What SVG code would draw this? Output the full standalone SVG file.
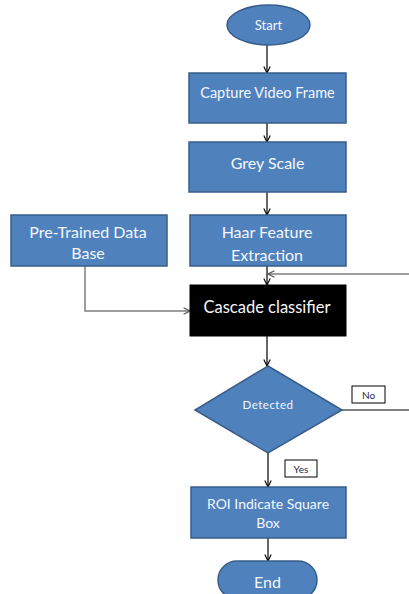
<svg xmlns="http://www.w3.org/2000/svg" width="409" height="594" viewBox="0 0 409 594">
  <defs>
    <style>
      .shape { fill: #4F81BD; stroke: #385D8A; stroke-width: 1.5; }
      .dark { fill: #000000; stroke: #000000; stroke-width: 1; }
      .lbl { font-family: Lato, "Open Sans", "Liberation Sans", sans-serif; fill: #F4F7FC; text-anchor: middle; dominant-baseline: central; }
      .tag { fill: #FFFFFF; stroke: #000000; stroke-width: 1; }
      .tagtxt { font-family: Lato, "Liberation Sans", sans-serif; font-size: 10px; fill: #1F1F3F; text-anchor: middle; dominant-baseline: central; }
      .wire { fill: none; stroke: #000000; stroke-width: 1.2; }
      .wire-grey { fill: none; stroke: #7F7F7F; stroke-width: 1.5; }
    </style>
    <marker id="arrow" viewBox="0 0 10 10" refX="9" refY="5" markerWidth="8" markerHeight="8" markerUnits="userSpaceOnUse" orient="auto">
      <path d="M1,1 L9,5 L1,9" fill="none" stroke="#000000" stroke-width="1.4"/>
    </marker>
    <marker id="arrow-grey" viewBox="0 0 10 10" refX="9" refY="5" markerWidth="8" markerHeight="8" markerUnits="userSpaceOnUse" orient="auto">
      <path d="M1,1 L9,5 L1,9" fill="none" stroke="#555555" stroke-width="1.4"/>
    </marker>
  </defs>

  <rect width="409" height="594" fill="#FFFFFF"/>

  <g id="connectors">
    <line class="wire" x1="267" y1="45" x2="267" y2="73" marker-end="url(#arrow)"/>
    <line class="wire" x1="267" y1="123" x2="267" y2="142" marker-end="url(#arrow)"/>
    <line class="wire" x1="267" y1="192" x2="267" y2="215" marker-end="url(#arrow)"/>
    <line class="wire" x1="267" y1="266" x2="267" y2="285" marker-end="url(#arrow)"/>
    <line class="wire-grey" x1="409" y1="274" x2="268" y2="274" marker-end="url(#arrow-grey)"/>
    <polyline class="wire-grey" points="85,266 85,311 190,311" marker-end="url(#arrow-grey)"/>
    <line class="wire" x1="267" y1="336" x2="267" y2="366" marker-end="url(#arrow)"/>
    <line class="wire" x1="342" y1="410" x2="409" y2="410"/>
    <line class="wire" x1="268" y1="453" x2="268" y2="487" marker-end="url(#arrow)"/>
    <line class="wire" x1="268" y1="538" x2="268" y2="561" marker-end="url(#arrow)"/>
  </g>

  <g id="start">
    <ellipse class="shape" cx="268.5" cy="25" rx="41.5" ry="20"/>
    <text class="lbl" x="268.5" y="25" font-size="13">Start</text>
  </g>

  <g id="capture">
    <rect class="shape" x="189" y="73" width="157" height="50"/>
    <text class="lbl" x="267.5" y="92" font-size="14.5">Capture Video Frame</text>
  </g>

  <g id="grey-scale">
    <rect class="shape" x="189" y="142" width="157" height="50"/>
    <text class="lbl" x="267.5" y="162" font-size="16">Grey Scale</text>
  </g>

  <g id="pre-trained">
    <rect class="shape" x="11" y="215" width="156" height="51"/>
    <text class="lbl" x="88" y="231" font-size="16">Pre-Trained Data</text>
    <text class="lbl" x="88" y="252" font-size="16">Base</text>
  </g>

  <g id="haar">
    <rect class="shape" x="190" y="215" width="156" height="51"/>
    <text class="lbl" x="267" y="231" font-size="16">Haar Feature</text>
    <text class="lbl" x="267" y="254" font-size="16">Extraction</text>
  </g>

  <g id="cascade">
    <rect class="dark" x="190" y="285" width="156" height="51"/>
    <text class="lbl" x="267" y="307" font-size="16.5">Cascade classifier</text>
  </g>

  <g id="detected">
    <polygon class="shape" points="268,366 342,410 268,453 195,410"/>
    <text class="lbl" x="268" y="404" font-size="11.5" letter-spacing="0.5">Detected</text>
  </g>

  <g id="label-no">
    <rect class="tag" x="352" y="386" width="33" height="17"/>
    <text class="tagtxt" x="368.5" y="394.5">No</text>
  </g>

  <g id="label-yes">
    <rect class="tag" x="285" y="460" width="32" height="17"/>
    <text class="tagtxt" x="301" y="468.5">Yes</text>
  </g>

  <g id="roi">
    <rect class="shape" x="191" y="487" width="155" height="51"/>
    <text class="lbl" x="268" y="503" font-size="14">ROI Indicate Square</text>
    <text class="lbl" x="268" y="522" font-size="14">Box</text>
  </g>

  <g id="end">
    <rect class="shape" x="218" y="561" width="99" height="38" rx="19" ry="19"/>
    <text class="lbl" x="267.5" y="581" font-size="16">End</text>
  </g>
</svg>
